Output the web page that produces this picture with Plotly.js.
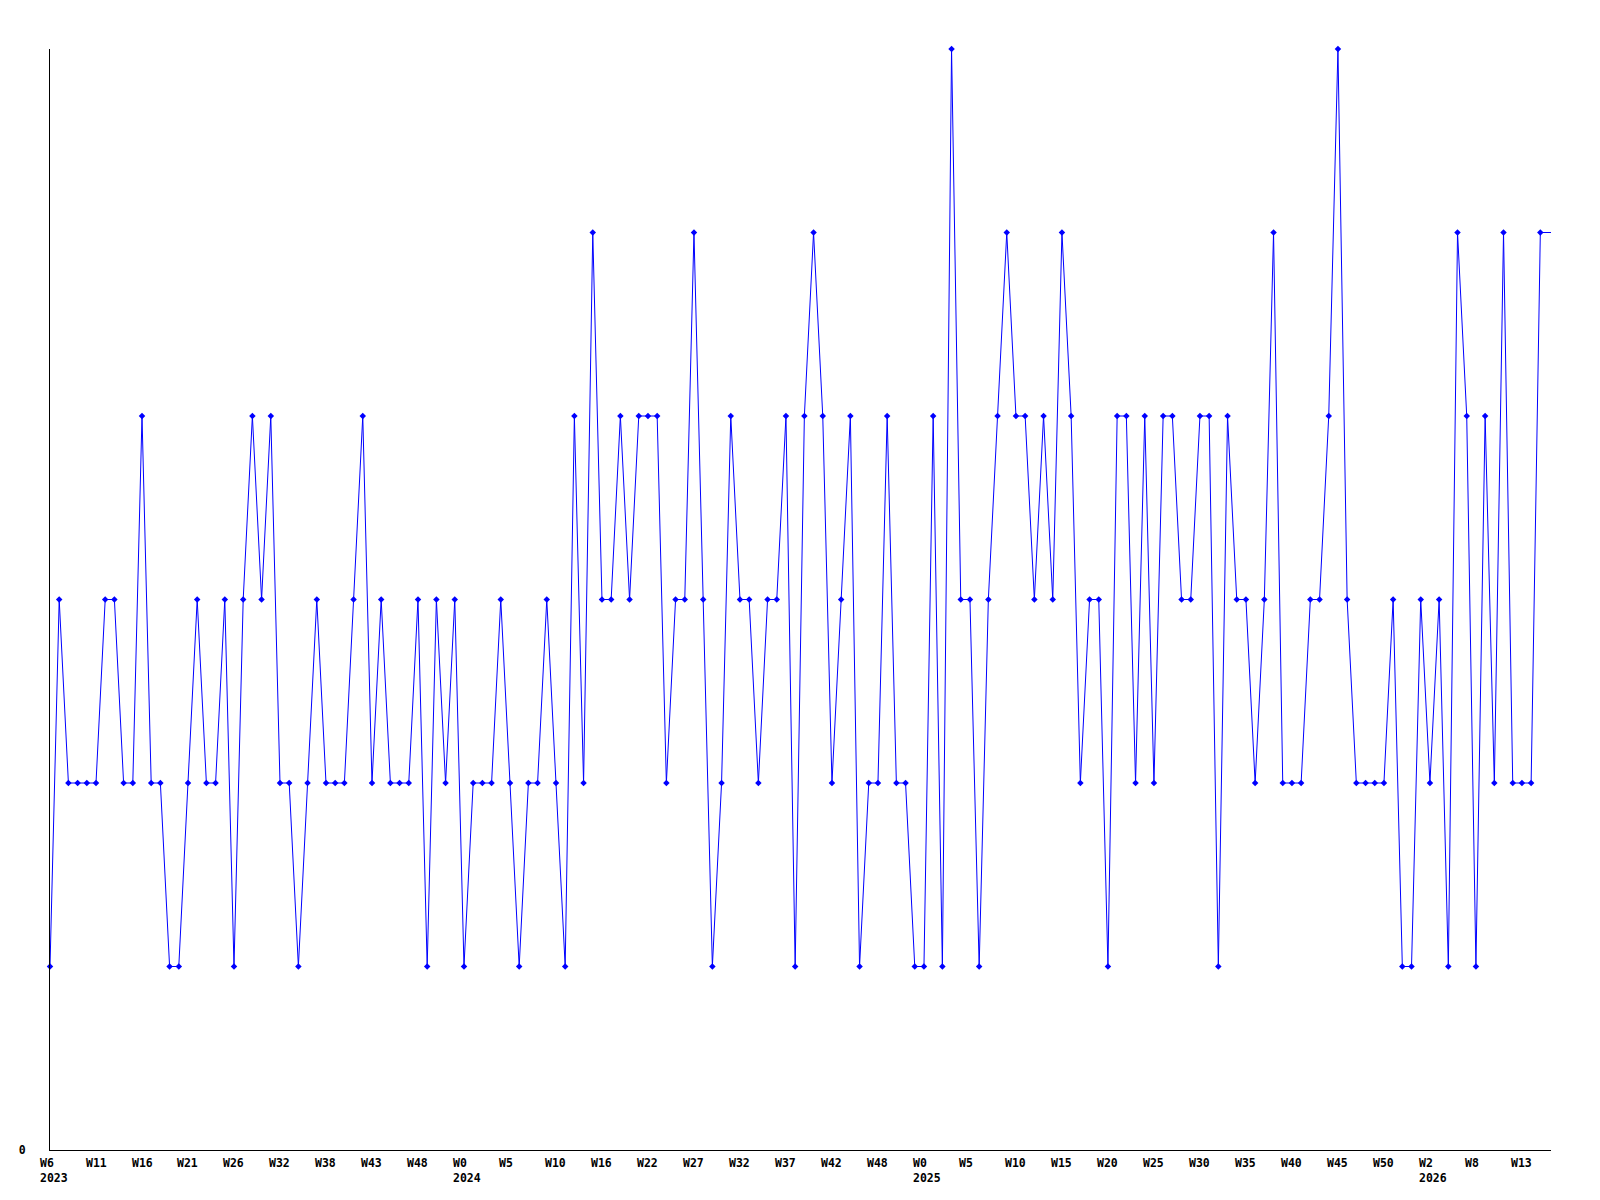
<!DOCTYPE html>
<html>
<head>
<meta charset="utf-8">
<script src="https://cdn.plot.ly/plotly-3.0.1.min.js"></script>
<style>html,body{margin:0;padding:0;background:#fff;}#chart{width:1600px;height:1200px;}</style>
</head>
<body>
<div id="chart"></div>
<script>
// Weekly values, first week W6 2023
const values = [
  1,3,2,2,2,2,3,3,2,2,
  4,2,2,1,1,2,3,2,2,3,
  1,3,4,3,4,2,2,1,2,3,
  2,2,2,3,4,2,3,2,2,2,
  3,1,3,2,3,1,2,2,2,3,
  2,1,2,2,3,2,1,4,2,5,
  3,3,4,3,4,4,4,2,3,3,
  5,3,1,2,4,3,3,2,3,3,
  4,1,4,5,4,2,3,4,1,2,
  2,4,2,2,1,1,4,1,6,3,
  3,1,3,4,5,4,4,3,4,3,
  5,4,2,3,3,1,4,4,2,4,
  2,4,4,3,3,4,4,1,4,3,
  3,2,3,5,2,2,2,3,3,4,
  6,3,2,2,2,2,3,1,1,3,
  2,3,1,5,4,1,4,2,5,2,
  2,2,5
];
// current (partial) week, drawn as a line only
const currentValue = 5;
// x tick labels, one every 5 weeks
const tickLabels = [
  "W6<br>2023","W11","W16","W21","W26","W32","W38","W43","W48",
  "W0<br>2024","W5","W10","W16","W22","W27","W32","W37","W42","W48",
  "W0<br>2025","W5","W10","W15","W20","W25","W30","W35","W40","W45","W50",
  "W2<br>2026","W8","W13"
];
const tickStep = 5;
const yTickVals = [0];
const yTickText = ["0"];

const FONT = {family: "DejaVu Sans Mono, monospace", size: 11.5, color: "#000"};
const xs = values.map((v, i) => i);
const last = values.length - 1;

const main = {
  x: xs, y: values, type: "scatter", mode: "lines+markers",
  line: {color: "#0000ff", width: 1},
  marker: {color: "#0000ff", size: 5, symbol: "diamond"},
  cliponaxis: false, hoverinfo: "skip", showlegend: false
};
const tail = {
  x: [last, last + 2], y: [values[last], currentValue], type: "scatter", mode: "lines",
  line: {color: "#0000ff", width: 1}, cliponaxis: true, hoverinfo: "skip", showlegend: false
};

const annotations = tickLabels.map((t, k) => ({
  x: k * tickStep, xref: "x", y: 0, yref: "paper",
  xanchor: "left", yanchor: "top", align: "left",
  xshift: -12.5, yshift: -4, showarrow: false,
  text: "<b>" + t + "</b>", font: FONT
}));

const layout = {
  width: 1600, height: 1200,
  margin: {l: 50, r: 49, t: 49, b: 50, pad: 0},
  paper_bgcolor: "#fff", plot_bgcolor: "#fff",
  showlegend: false,
  xaxis: {
    range: [0, 163.16], showline: true, linecolor: "#000", linewidth: 1,
    showgrid: false, zeroline: false, ticks: "", showticklabels: false, fixedrange: true
  },
  yaxis: {
    range: [0, 6], showline: true, linecolor: "#000", linewidth: 1,
    showgrid: false, zeroline: false, ticks: "",
    tickmode: "array", tickvals: yTickVals, ticktext: yTickText.map(t => "<b>" + t + "</b>"),
    tickfont: FONT, ticklabelstandoff: 21, fixedrange: true
  },
  annotations: annotations
};

Plotly.newPlot("chart", [main, tail], layout, {staticPlot: true, displayModeBar: false});
</script>
</body>
</html>
